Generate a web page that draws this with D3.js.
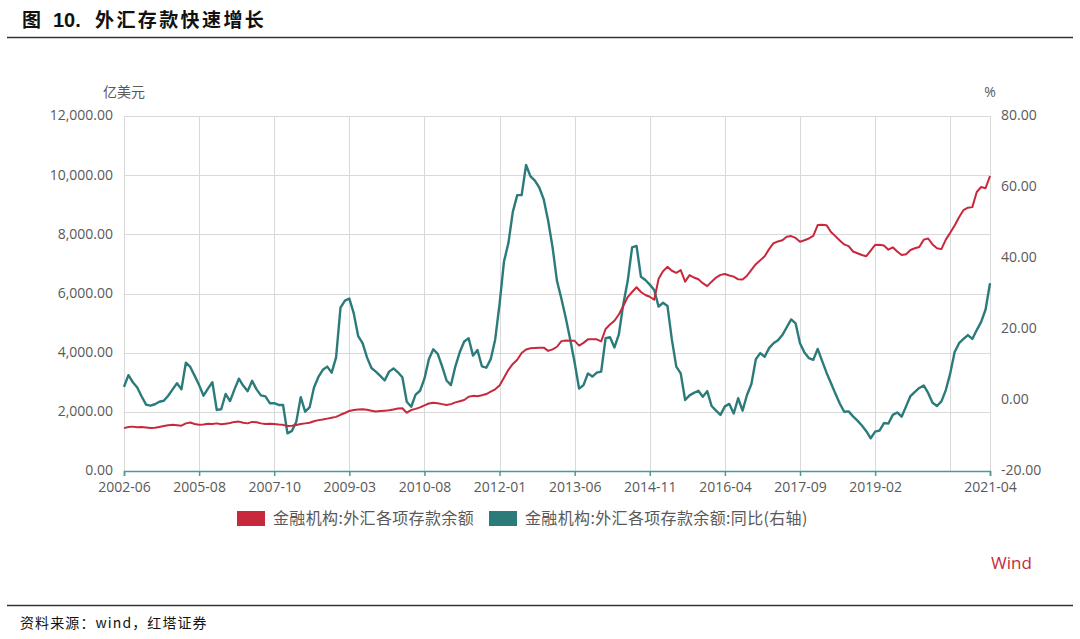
<!DOCTYPE html>
<html><head><meta charset="utf-8">
<script src="https://cdn.jsdelivr.net/npm/d3@7"></script>
<style>
body{margin:0;background:#fff;}
svg{display:block;font-family:"Open Sans","Noto Sans CJK SC",sans-serif;}
</style>
</head><body>
<svg id="c" width="1080" height="639"></svg>
<script>
// ---------- data ----------
const titleText = "外汇存款快速增长";
const earlyDates = ["2002-06","2002-09","2002-12","2003-03","2003-06","2003-09","2003-12","2004-02","2004-04","2004-06",
  "2004-08","2004-10","2004-12","2005-02","2005-04","2005-06","2005-07","2005-08","2005-10","2005-12",
  "2006-02","2006-04","2006-06","2006-08","2006-10","2006-12","2007-02","2007-03","2007-04","2007-05",
  "2007-06","2007-07","2007-08","2007-09","2007-10"];
const monthlyDates = d3.timeMonth.range(new Date(2007,10,1), new Date(2021,4,1)).map(d3.timeFormat("%Y-%m"));
const categories = earlyDates.concat(monthlyDates);

const depositValues = [1450,1490,1500,1480,1490,1470,1450,1460,1490,1520,
1550,1560,1550,1530,1610,1640,1590,1560,1570,1600,
1590,1610,1580,1600,1620,1660,1670,1630,1610,1660,
1650,1610,1590,1600,1590,1570,1560,1520,1530,1555,
1590,1610,1630,1680,1720,1740,1770,1800,1830,1900,
1960,2030,2060,2080,2090,2070,2040,2010,2030,2040,
2050,2080,2110,2120,1970,2060,2100,2150,2220,2280,
2310,2290,2260,2230,2260,2320,2360,2400,2510,2540,
2530,2560,2600,2680,2760,2890,3150,3420,3620,3760,
3990,4110,4150,4160,4165,4170,4060,4110,4200,4390,
4410,4400,4400,4240,4330,4450,4450,4450,4380,4800,
4950,5080,5290,5580,5880,6050,6210,6050,5950,5890,
5790,6500,6750,6900,6770,6700,6790,6400,6620,6540,
6480,6350,6250,6400,6540,6630,6660,6610,6570,6480,
6470,6600,6800,6990,7120,7260,7500,7700,7760,7800,
7920,7940,7880,7750,7800,7860,7950,8315,8320,8310,
8080,7940,7790,7660,7600,7420,7360,7300,7260,7450,
7640,7650,7620,7480,7560,7420,7300,7330,7470,7530,
7570,7820,7860,7660,7530,7500,7820,8050,8300,8580,
8820,8900,8920,9430,9600,9560,9971];

const yoyValues = [3.7,7.0,5.0,3.5,1.0,-1.3,-1.6,-1.2,-0.5,-0.2,
1.2,3.0,4.7,3.0,10.5,9.3,6.8,4.2,1.2,3.2,
5.0,-2.8,-2.6,1.7,-0.3,3.0,6.0,4.0,2.5,5.4,
3.0,1.3,1.0,-0.9,-0.9,-1.4,-1.4,-9.4,-8.7,-6.1,
0.8,-3.3,-2.1,3.5,6.5,8.5,9.4,7.7,12.0,26.0,
28.0,28.6,24.4,18.0,16.0,12.0,9.0,8.0,6.8,5.5,
8.0,8.9,7.8,6.4,-0.5,-1.9,1.5,2.6,6.0,11.5,
14.3,13.0,9.5,5.5,4.2,9.5,13.5,16.5,17.4,12.5,
14.1,9.5,9.1,11.5,17.0,27.0,39.0,44.2,53.0,57.7,
57.7,66.2,63.0,61.8,59.8,56.5,50.5,43.0,33.5,28.5,
23.0,17.0,10.5,3.2,4.2,7.5,6.6,7.7,8.0,17.4,
17.7,14.8,18.5,27.0,33.5,43.0,43.4,34.7,33.8,32.5,
31.0,26.3,27.4,26.5,17.0,9.4,7.5,0.0,1.3,2.0,
2.6,0.9,2.5,-1.7,-3.0,-4.2,-1.8,-1.1,-3.8,0.5,
-3.0,1.4,4.5,11.5,13.2,12.2,14.6,16.0,16.8,18.3,
20.5,22.7,21.6,16.0,13.4,11.8,11.3,14.4,11.0,7.7,
4.8,1.8,-1.0,-3.3,-3.2,-4.6,-5.8,-7.2,-8.8,-10.8,
-8.9,-8.6,-6.5,-6.6,-4.2,-3.5,-4.7,-1.8,1.1,2.3,
3.4,4.1,2.0,-0.8,-1.7,-0.4,2.8,7.5,13.5,16.0,
17.2,18.3,17.2,19.7,22.0,25.5,32.9];

const xTickLabels = ["2002-06","2005-08","2007-10","2009-03","2010-08","2012-01","2013-06","2014-11","2016-04","2017-09","2019-02","2021-04"];
const xGridCats = xTickLabels.concat(["2020-07"]);
const leftTicks = [0,2000,4000,6000,8000,10000,12000];
const rightTicks = [-20,0,20,40,60,80];
const seriesNames = ["金融机构:外汇各项存款余额","金融机构:外汇各项存款余额:同比(右轴)"];
const seriesColors = ["#c8283c","#2b7b7a"];

// ---------- chart ----------
const svg = d3.select("#c");
const L = 124, R = 990, T = 116, B = 471;
const x = d3.scalePoint().domain(categories).range([L, R]);
const yL = d3.scaleLinear().domain([0,12000]).range([B, T]);
const yR = d3.scaleLinear().domain([-20,80]).range([B, T]);
const loc = d3.formatLocale({decimal:".",thousands:",",grouping:[3],currency:["",""],minus:"-"});
const fL = loc.format(",.2f"), fR = loc.format(".2f");
const txt = "#595959", grid = "#d9d9d9";

// title
const title = svg.append("text").attr("y", 27).attr("font-family","'Noto Sans CJK SC',sans-serif")
  .attr("font-weight","bold").attr("font-size",19).attr("fill","#111");
title.append("tspan").attr("x",22).text("图");
title.append("tspan").attr("x",53).attr("font-family","Arial,'Liberation Sans',sans-serif").attr("font-size",20).text("10.");
title.append("tspan").attr("x",95).attr("letter-spacing",2.4).text(titleText);
svg.append("line").attr("x1",7).attr("x2",1073).attr("y1",37.5).attr("y2",37.5).attr("stroke","#333").attr("stroke-width",1.3);

// grid horizontal
svg.append("g").selectAll("line").data(leftTicks).join("line")
  .attr("x1",L).attr("x2",R).attr("y1",d=>Math.round(yL(d))+0.5).attr("y2",d=>Math.round(yL(d))+0.5)
  .attr("stroke",grid).attr("stroke-width",1);
// grid vertical
svg.append("g").selectAll("line").data(xGridCats).join("line")
  .attr("x1",d=>Math.round(x(d))+0.5).attr("x2",d=>Math.round(x(d))+0.5).attr("y1",T).attr("y2",B)
  .attr("stroke",grid).attr("stroke-width",1);

// left axis labels
svg.append("g").selectAll("text").data(leftTicks).join("text")
  .attr("x",113).attr("y",d=>yL(d)).attr("dy","0.32em").attr("text-anchor","end")
  .attr("font-size",14).attr("fill",txt).text(d=>fL(d));
// right axis labels
svg.append("g").selectAll("text").data(rightTicks).join("text")
  .attr("x",1001).attr("y",d=>yR(d)).attr("dy","0.32em").attr("text-anchor","start")
  .attr("font-size",14).attr("fill",txt).text(d=>fR(d));
// units
svg.append("text").attr("x",103).attr("y",92).attr("dy","0.35em").attr("font-size",14).attr("fill",txt)
  .attr("font-family","'Noto Sans CJK SC',sans-serif").text("亿美元");
svg.append("text").attr("x",990).attr("y",92).attr("dy","0.35em").attr("text-anchor","middle").attr("font-size",14).attr("fill",txt).text("%");

// x axis
const xAxis = d3.axisBottom(x).tickValues(xTickLabels).tickSize(5).tickPadding(6);
const gx = svg.append("g").attr("transform",`translate(0,${B})`).call(xAxis);
gx.select(".domain").attr("stroke","#4a9a9a").attr("stroke-width",1.5);
gx.selectAll(".tick line").attr("stroke","#4a9a9a").attr("stroke-width",1.5);
gx.selectAll(".tick text").attr("font-size",14).attr("fill",txt).attr("font-family","'Open Sans',sans-serif");

// lines
const lineL = d3.line().x((d,i)=>x(categories[i])).y(d=>yL(d));
const lineR = d3.line().x((d,i)=>x(categories[i])).y(d=>yR(d));
svg.append("path").datum(yoyValues).attr("d",lineR).attr("fill","none")
  .attr("stroke",seriesColors[1]).attr("stroke-width",2.4).attr("stroke-linejoin","round");
svg.append("path").datum(depositValues).attr("d",lineL).attr("fill","none")
  .attr("stroke",seriesColors[0]).attr("stroke-width",2).attr("stroke-linejoin","round");

// legend
const lg = svg.append("g");
const legendX = [237, 489];
seriesNames.forEach((n,i)=>{
  lg.append("rect").attr("x",legendX[i]).attr("y",511).attr("width",28).attr("height",15).attr("fill",seriesColors[i]);
  lg.append("text").attr("x",legendX[i]+36).attr("y",518.5).attr("dy","0.35em").attr("font-size",16)
    .attr("letter-spacing",0.35).attr("fill",txt).attr("font-family","'Noto Sans CJK SC',sans-serif").text(n);
});

// wind mark
svg.append("text").attr("x",991).attr("y",563).attr("dy","0.35em").attr("font-size",17).attr("fill","#c8283c").text("Wind");

// bottom
svg.append("line").attr("x1",7).attr("x2",1073).attr("y1",605.5).attr("y2",605.5).attr("stroke","#333").attr("stroke-width",1.3);
svg.append("text").attr("x",20).attr("y",623).attr("dy","0.35em").attr("font-size",14).attr("letter-spacing",1.1)
  .attr("font-family","'Noto Sans CJK SC',sans-serif").attr("fill","#111").text("资料来源：wind，红塔证券");
</script>
</body></html>
